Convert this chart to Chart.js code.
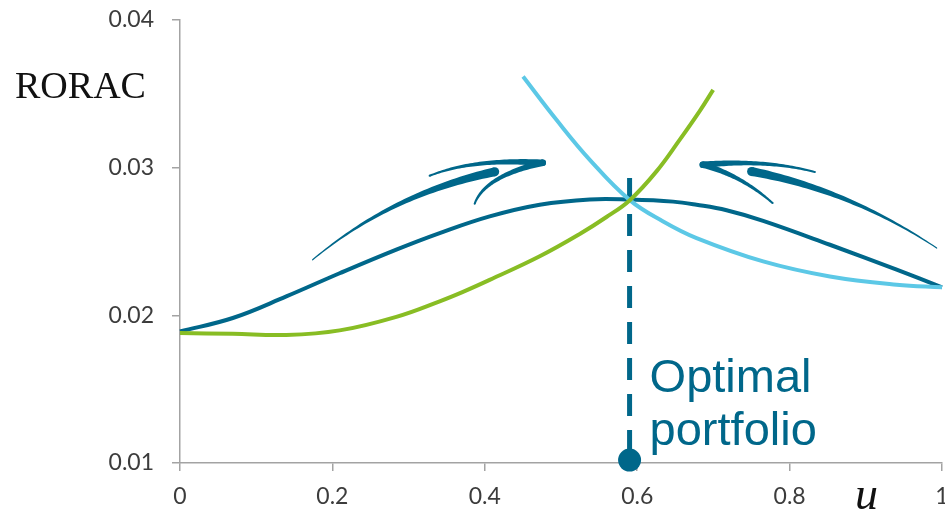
<!DOCTYPE html>
<html>
<head>
<meta charset="utf-8">
<script src="https://cdn.jsdelivr.net/npm/chart.js@4/dist/chart.umd.min.js"></script>
<style>
  html, body { margin: 0; padding: 0; background: #ffffff; overflow: hidden; }
  #wrap { width: 945px; height: 513px; position: relative; }
  #chart { display: block; }
</style>
</head>
<body>
<div id="wrap"><canvas id="chart" width="945" height="513"></canvas></div>
<script>
// Tick labels
const xTickLabels = ['0', '0.2', '0.4', '0.6', '0.8', '1'];
const yTickLabels = ['0.01', '0.02', '0.03', '0.04'];

// Combined portfolio RORAC as a function of the weight u
const combinedU      = [0, 0.0693, 0.1395, 0.2095, 0.2839, 0.3408, 0.4064, 0.4721, 0.5378, 0.5903, 0.6471, 0.6779, 0.7173, 0.7653, 0.8529, 0.9405, 1.0];
const combinedRorac  = [0.01891, 0.01982, 0.02128, 0.02285, 0.02445, 0.02557, 0.02670, 0.02749, 0.02785, 0.02784, 0.02770, 0.02749, 0.02712, 0.02640, 0.02478, 0.02309, 0.02190];

// Rising curve (green)
const risingU        = [0, 0.0693, 0.1395, 0.2095, 0.2839, 0.3408, 0.3714, 0.4064, 0.4721, 0.5246, 0.5597, 0.5903, 0.6253, 0.6559, 0.6822, 0.6997];
const risingRorac    = [0.01880, 0.01875, 0.01867, 0.01898, 0.01990, 0.02095, 0.02159, 0.02240, 0.02400, 0.02551, 0.02666, 0.02780, 0.02975, 0.03190, 0.03385, 0.03527];

// Falling curve (light blue)
const fallingU       = [0.4502, 0.4940, 0.5378, 0.5903, 0.6340, 0.6779, 0.7653, 0.8529, 0.9405, 1.0];
const fallingRorac   = [0.03617, 0.03324, 0.03053, 0.02780, 0.02636, 0.02523, 0.02365, 0.02263, 0.02207, 0.02190];

// Optimal portfolio marker
const optimalU = 0.59;
const optimalLineRorac = [0.0293, 0.0102];

const TEAL = '#00678a';
const LIGHT = '#5cc8e6';
const GREEN = '#88bd24';

const toPoints = (xs, ys) => xs.map((x, i) => ({ x: x, y: ys[i] }));

// Hand-drawn style swoosh arrows, defined in data units
const swooshes = [
  { from: [0.174, 0.02376], ctrl: [0.2777, 0.02823], to: [0.413, 0.02972], w: [1.2, 9] },
  { from: [0.3276, 0.02945], ctrl: [0.3848, 0.03064], to: [0.476, 0.03033], w: [2, 6.5] },
  { from: [0.476, 0.03033], ctrl: [0.3999, 0.02942], to: [0.3867, 0.02756], w: [6.5, 2] },
  { from: [0.993, 0.02456], ctrl: [0.8779, 0.02850], to: [0.7501, 0.02974], w: [1.2, 9] },
  { from: [0.8332, 0.02970], ctrl: [0.7702, 0.03058], to: [0.6861, 0.03020], w: [2, 6.5] },
  { from: [0.6861, 0.03020], ctrl: [0.7374, 0.02945], to: [0.7777, 0.02760], w: [6.5, 2] }
];

function drawTaper(ctx, p0, c, p1, w0, w1) {
  const n = 48, left = [], right = [];
  for (let i = 0; i <= n; i++) {
    const t = i / n, mt = 1 - t;
    const x = mt * mt * p0[0] + 2 * mt * t * c[0] + t * t * p1[0];
    const y = mt * mt * p0[1] + 2 * mt * t * c[1] + t * t * p1[1];
    const dx = 2 * mt * (c[0] - p0[0]) + 2 * t * (p1[0] - c[0]);
    const dy = 2 * mt * (c[1] - p0[1]) + 2 * t * (p1[1] - c[1]);
    const len = Math.hypot(dx, dy) || 1;
    const nx = -dy / len, ny = dx / len;
    const hw = (w0 + (w1 - w0) * Math.pow(t, w1 > w0 ? 1.3 : 0.8)) / 2;
    left.push([x + nx * hw, y + ny * hw]);
    right.push([x - nx * hw, y - ny * hw]);
  }
  ctx.beginPath();
  ctx.moveTo(left[0][0], left[0][1]);
  for (let i = 1; i < left.length; i++) ctx.lineTo(left[i][0], left[i][1]);
  for (let i = right.length - 1; i >= 0; i--) ctx.lineTo(right[i][0], right[i][1]);
  ctx.closePath();
  ctx.fill();
  ctx.beginPath(); ctx.arc(p0[0], p0[1], w0 / 2, 0, Math.PI * 2); ctx.fill();
  ctx.beginPath(); ctx.arc(p1[0], p1[1], w1 / 2, 0, Math.PI * 2); ctx.fill();
}

const decorations = {
  id: 'decorations',
  afterDatasetsDraw(chart) {
    const ctx = chart.ctx;
    const xs = chart.scales.x, ys = chart.scales.y;
    const px = p => [xs.getPixelForValue(p[0]), ys.getPixelForValue(p[1])];
    ctx.save();
    ctx.fillStyle = TEAL;
    swooshes.forEach(s => drawTaper(ctx, px(s.from), px(s.ctrl), px(s.to), s.w[0], s.w[1]));

    // annotation text
    ctx.fillStyle = TEAL;
    ctx.font = '47px "Liberation Sans", Arial, sans-serif';
    ctx.textAlign = 'left';
    ctx.textBaseline = 'alphabetic';
    const tx = xs.getPixelForValue(optimalU) + 20;
    ctx.fillText('Optimal', tx, 392);
    ctx.fillText('portfolio', tx, 445);

    // axis titles
    ctx.fillStyle = '#111111';
    ctx.font = '38px "Liberation Serif", "Times New Roman", serif';
    ctx.fillText('RORAC', 15, 98);
    ctx.font = 'italic 46px "Liberation Serif", "Times New Roman", serif';
    ctx.fillText('u', 855, 509);
    ctx.restore();
  }
};

const axisGray = '#a3a3a3';
const tickFont = { family: 'Lato, "Open Sans", sans-serif', size: 23 };

new Chart(document.getElementById('chart'), {
  type: 'scatter',
  data: {
    datasets: [
      {
        data: toPoints([optimalU, optimalU], optimalLineRorac),
        showLine: true, borderColor: TEAL, borderWidth: 5,
        borderDash: [22, 14], pointRadius: 0, order: 4, clip: false
      },
      {
        data: toPoints([optimalU], [optimalLineRorac[1]]),
        pointRadius: 11.5, pointBackgroundColor: TEAL, pointBorderWidth: 0, order: 0, clip: false
      },
      {
        data: toPoints(combinedU, combinedRorac),
        showLine: true, borderColor: TEAL, borderWidth: 4, pointRadius: 0,
        tension: 0.4, order: 3, clip: false
      },
      {
        data: toPoints(fallingU, fallingRorac),
        showLine: true, borderColor: LIGHT, borderWidth: 4, pointRadius: 0,
        tension: 0.4, order: 2, clip: false
      },
      {
        data: toPoints(risingU, risingRorac),
        showLine: true, borderColor: GREEN, borderWidth: 4, pointRadius: 0,
        tension: 0.4, order: 1, clip: false
      }
    ]
  },
  options: {
    responsive: false,
    animation: false,
    devicePixelRatio: 1,
    layout: { autoPadding: false, padding: { top: 20, right: 3, left: 0, bottom: 0 } },
    plugins: { legend: { display: false }, tooltip: { enabled: false } },
    scales: {
      x: {
        type: 'linear', min: 0, max: 1,
        ticks: {
          stepSize: 0.2, color: '#3c3c3c', font: tickFont, padding: 12,
          maxRotation: 0, autoSkip: false,
          callback: (v, i) => xTickLabels[i]
        },
        grid: { drawOnChartArea: false, drawTicks: true, tickLength: 8, color: axisGray, lineWidth: 1.5 },
        border: { color: axisGray, width: 1.5 },
        afterFit: s => { s.height = 50; s.paddingLeft = 0; s.paddingRight = 0; }
      },
      y: {
        type: 'linear', min: 0.01, max: 0.04,
        ticks: {
          stepSize: 0.01, color: '#3c3c3c', font: tickFont, padding: 18,
          callback: (v, i) => yTickLabels[i]
        },
        grid: { drawOnChartArea: false, drawTicks: true, tickLength: 8, color: axisGray, lineWidth: 1.5 },
        border: { color: axisGray, width: 1.5 },
        afterFit: s => { s.width = 180; s.paddingTop = 0; s.paddingBottom = 0; }
      }
    }
  },
  plugins: [decorations]
});
</script>
</body>
</html>
